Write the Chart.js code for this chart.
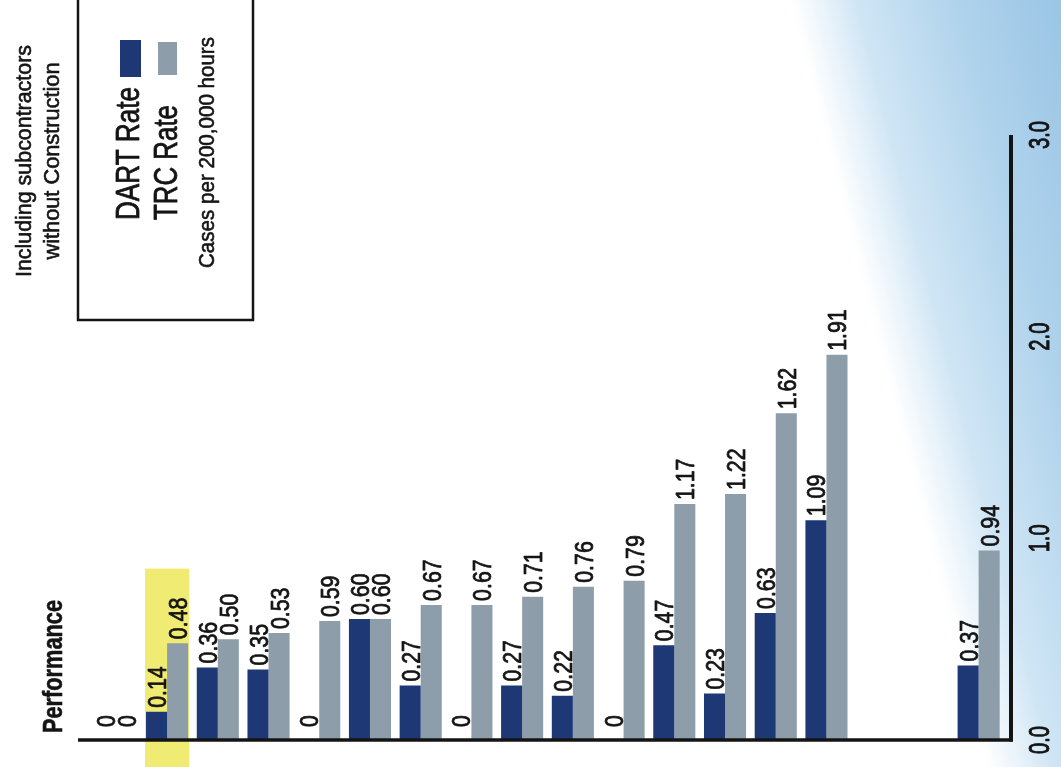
<!DOCTYPE html>
<html>
<head>
<meta charset="utf-8">
<script src="https://cdn.jsdelivr.net/npm/chart.js@4.4.1/dist/chart.umd.min.js"></script>
<style>
  html, body { margin: 0; padding: 0; background: #fff; }
  canvas { display: block; }
</style>
</head>
<body>
<canvas id="chart" width="1061" height="767"></canvas>
<script>
// ── data ──────────────────────────────────────────────
// category names are cut off in the source picture; the two empty slots make the gap before the last pair
const categories = ['', '', '', '', '', '', '', '', '', '', '', '', '', '', '', '', '', ''];
const dartRate = [0, 0.14, 0.36, 0.35, 0, 0.60, 0.27, 0, 0.27, 0.22, 0, 0.47, 0.23, 0.63, 1.09, null, null, 0.37];
const trcRate = [0, 0.48, 0.50, 0.53, 0.59, 0.60, 0.67, 0.67, 0.71, 0.76, 0.79, 1.17, 1.22, 1.62, 1.91, null, null, 0.94];
const yTicks = [0, 1, 2, 3];
const highlightIndex = 1;

const NAVY = '#1d3874';
const GREY = '#8d9eaa';
const INK = '#141414';
const FONT = '"Liberation Sans", Arial, sans-serif';

// text turned 90deg counter-clockwise, bx = baseline x, y = anchor along the text
function vText(ctx, text, bx, y, size, opts = {}) {
  ctx.save();
  ctx.font = `${opts.bold ? 'bold ' : ''}${size}px ${FONT}`;
  const w = ctx.measureText(text).width;
  const sx = opts.len ? opts.len / w : (opts.sx || 1);
  ctx.translate(bx, y);
  ctx.rotate(-Math.PI / 2);
  ctx.scale(sx, 1);
  ctx.textAlign = opts.align || 'left';
  ctx.textBaseline = 'alphabetic';
  ctx.fillStyle = INK;
  ctx.fillText(text, 0, 0);
  // scanned print looks heavier than the plain font
  ctx.strokeStyle = INK;
  ctx.lineJoin = 'round';
  ctx.lineWidth = opts.stroke ?? 1;
  ctx.strokeText(text, 0, 0);
  ctx.restore();
}

// white page with the blue sky fading in on the right
const background = {
  id: 'background',
  beforeDraw(chart) {
    const { ctx, width, height } = chart;
    ctx.save();
    ctx.fillStyle = '#fff';
    ctx.fillRect(0, 0, width, height);
    const g = ctx.createLinearGradient(790, 0, 790 + 0.968 * 290, -0.249 * 290);
    g.addColorStop(0, 'rgba(210,231,246,0)');
    g.addColorStop(0.22, 'rgba(205,228,244,0.95)');
    g.addColorStop(0.55, '#b0d3ec');
    g.addColorStop(1, '#94c2e4');
    ctx.fillStyle = g;
    ctx.fillRect(0, 0, width, height);
    ctx.restore();
  },
};

// yellow marker behind the highlighted pair
const highlight = {
  id: 'highlight',
  beforeDatasetsDraw(chart) {
    const { ctx } = chart;
    const a = chart.getDatasetMeta(0).data[highlightIndex];
    const b = chart.getDatasetMeta(1).data[highlightIndex];
    if (!a || !b) return;
    const left = a.x - a.width / 2 - 1;
    const right = b.x + b.width / 2 + 1;
    const top = chart.scales.y.getPixelForValue(0.85);
    ctx.save();
    ctx.fillStyle = '#f0eb73';
    ctx.fillRect(left, top, right - left, chart.height - top);
    ctx.restore();
  },
};

// axis lines: baseline runs a bit past the plot on the left, value axis a bit right of it
const axisLines = {
  id: 'axisLines',
  afterDatasetsDraw(chart) {
    const { ctx } = chart;
    const y = chart.scales.y;
    const y0 = y.getPixelForValue(0);
    const y3 = y.getPixelForValue(3);
    ctx.save();
    ctx.strokeStyle = INK;
    ctx.lineWidth = 3.5;
    ctx.beginPath();
    ctx.moveTo(78, y0);
    ctx.lineTo(1013, y0);
    ctx.stroke();
    ctx.lineWidth = 4;
    ctx.beginPath();
    ctx.moveTo(1011, y3);
    ctx.lineTo(1011, y0 + 1.5);
    ctx.stroke();
    ctx.restore();
  },
};

// value labels above each bar
const valueLabels = {
  id: 'valueLabels',
  afterDatasetsDraw(chart) {
    const { ctx } = chart;
    chart.data.datasets.forEach((ds, i) => {
      chart.getDatasetMeta(i).data.forEach((bar, j) => {
        const v = ds.data[j];
        if (v == null) return;
        const txt = v === 0 ? '0' : v.toFixed(2);
        vText(ctx, txt, bar.x + 9.5, bar.y - (v === 0 ? 13 : 4), 26, { sx: 0.82, stroke: 0.8 });
      });
    });
  },
};

// legend box, notes and the axis numbers
const decorations = {
  id: 'decorations',
  afterDraw(chart) {
    const { ctx } = chart;
    const y = chart.scales.y;

    yTicks.forEach((v) => {
      vText(ctx, v.toFixed(1), 1049, y.getPixelForValue(v), 30, { len: 28, align: 'center', stroke: 1 });
    });

    vText(ctx, 'Performance', 62, 733, 27, { bold: true, len: 133, stroke: 0.6 });

    vText(ctx, 'Including subcontractors', 31, 161, 22, { len: 232, align: 'center', stroke: 0.6 });
    vText(ctx, 'without Construction', 59, 161, 22, { len: 197, align: 'center', stroke: 0.6 });

    ctx.save();
    ctx.strokeStyle = INK;
    ctx.lineWidth = 2.5;
    ctx.strokeRect(78, -4, 175, 324);
    ctx.fillStyle = chart.data.datasets[0].backgroundColor;
    ctx.fillRect(120, 40, 21, 37);
    ctx.fillStyle = chart.data.datasets[1].backgroundColor;
    ctx.fillRect(158, 42, 19, 33);
    ctx.restore();

    vText(ctx, 'DART Rate', 139, 220, 34, { len: 133, stroke: 0.8 });
    vText(ctx, 'TRC Rate', 177, 220, 34, { len: 115, stroke: 0.8 });
    vText(ctx, 'Cases per 200,000 hours', 214, 268, 22, { len: 231, stroke: 0.6 });
  },
};

const chart = new Chart(document.getElementById('chart'), {
  type: 'bar',
  data: {
    labels: categories,
    datasets: [
      { label: 'DART Rate', data: dartRate, backgroundColor: NAVY, barPercentage: 1, categoryPercentage: 0.83 },
      { label: 'TRC Rate', data: trcRate, backgroundColor: GREY, barPercentage: 1, categoryPercentage: 0.83 },
    ],
  },
  options: {
    responsive: false,
    animation: false,
    layout: { padding: { left: 91, right: 57, top: 135, bottom: 27 } },
    plugins: {
      legend: { display: false },
      tooltip: { enabled: false },
    },
    scales: {
      x: {
        grid: { display: false, drawTicks: false },
        ticks: { display: false },
        border: { display: false },
      },
      y: {
        position: 'right',
        min: 0,
        max: 3,
        grid: { display: false, drawTicks: false },
        ticks: { display: false },
        border: { display: false },
      },
    },
  },
  plugins: [background, highlight, axisLines, valueLabels, decorations],
});
</script>
</body>
</html>
